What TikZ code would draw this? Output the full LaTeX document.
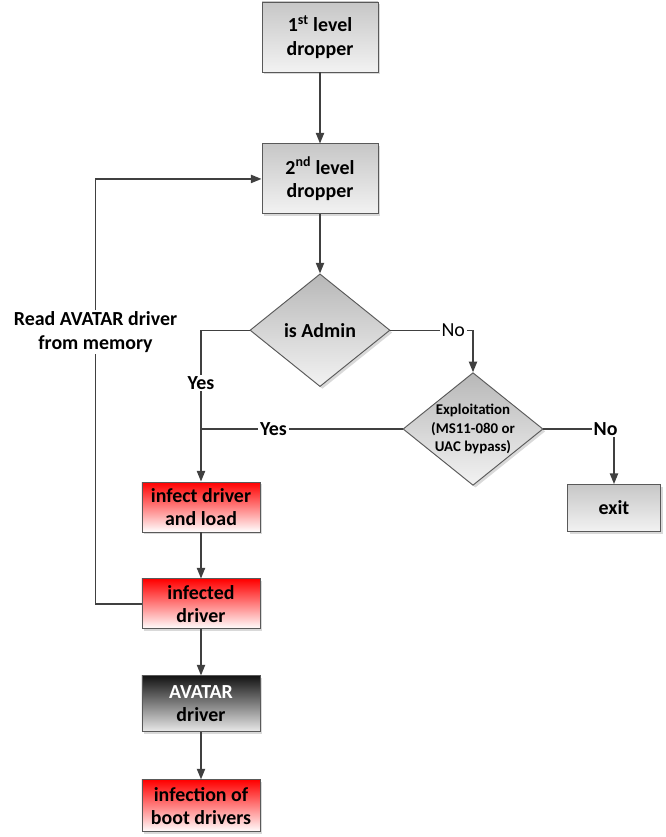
\documentclass[tikz,border=0pt]{standalone}
\usepackage{fontspec}
\setmainfont{Carlito}
\usepackage{tikz}
\usetikzlibrary{positioning,shapes.geometric,shadows,arrows.meta}

\begin{document}
\begin{tikzpicture}[
    x=0.03cm, y=-0.03cm,
    node distance=1.38cm,
    conn/.style={draw=black!75, line width=1.2pt},
    arr/.style={conn, -{Triangle[length=9pt,width=7pt]}},
    box/.style={rectangle, draw=black!65, line width=0.8pt, minimum width=3.54cm, minimum height=1.5cm, align=center, font=\fontsize{17}{20}\selectfont\bfseries, drop shadow={shadow xshift=2pt, shadow yshift=-2pt, opacity=.3}},
    greybox/.style={box, top color=black!22, bottom color=black!5},
    redbox/.style={box, top color=red, bottom color=white},
    darkbox/.style={box, top color=black!92, bottom color=black!8},
    decision/.style={diamond, aspect=1.25, draw=black!65, line width=0.8pt, minimum width=4.2cm, minimum height=3.38cm, inner sep=-2pt, align=center, top color=black!28, bottom color=black!5, drop shadow={shadow xshift=2pt, shadow yshift=-2pt, opacity=.3}},
    lbl/.style={fill=white, inner sep=1.5pt, align=center, font=\fontsize{17}{20}\selectfont\bfseries},
]
\useasboundingbox (0,0) rectangle (665,837);
% main column
\node[greybox, minimum width=3.48cm, minimum height=2.1cm] (drop1) at (320,37) {1\textsuperscript{st} level\\dropper};
\node[greybox, minimum width=3.48cm, minimum height=2.1cm, below=2.13cm of drop1] (drop2) {2\textsuperscript{nd} level\\dropper};
\node[decision, below=1.77cm of drop2, font=\fontsize{17}{20}\selectfont\bfseries] (admin) {is Admin};
\node[decision, font=\fontsize{12.7}{15.8}\selectfont\bfseries] (exploit) at (473,429) {Exploitation\\(MS11-080 or\\UAC bypass)};
\node[greybox, minimum width=2.79cm, minimum height=1.41cm] (exit) at (614,508) {exit};
% infection column
\node[redbox] (infect) at (201,507) {infect driver\\and load};
\node[redbox, below=of infect] (infected) {infected\\driver};
\node[darkbox, minimum height=1.68cm, below=of infected] (avatar) {{\color{white}AVATAR}\\driver};
\node[redbox, minimum height=1.56cm, below=1.41cm of avatar] (boot) {infection of\\boot drivers};

\draw[arr] (drop1) -- (drop2);
\draw[arr] (drop2) -- (admin);
\draw[arr] (admin.west) -| node[lbl, pos=0.675] {Yes} (infect.north);
\draw[arr] (admin.east) -| node[lbl, pos=0.38, font=\fontsize{17}{20}\selectfont] {No} (exploit.north);
\draw[conn] (exploit.west) -- node[lbl, pos=0.64] {Yes} (exploit.west -| infect.north);
\draw[arr] (exploit.east) -| node[lbl, pos=0.44] {No} (exit.north);
\draw[arr] (infect) -- (infected);
\draw[arr] (infected) -- (avatar);
\draw[arr] (avatar) -- (boot);
\draw[arr] (infected.west) -- ++(-46,0) |- node[lbl, pos=0.32] {Read AVATAR driver\\from memory} (drop2.west);
\end{tikzpicture}
\end{document}
